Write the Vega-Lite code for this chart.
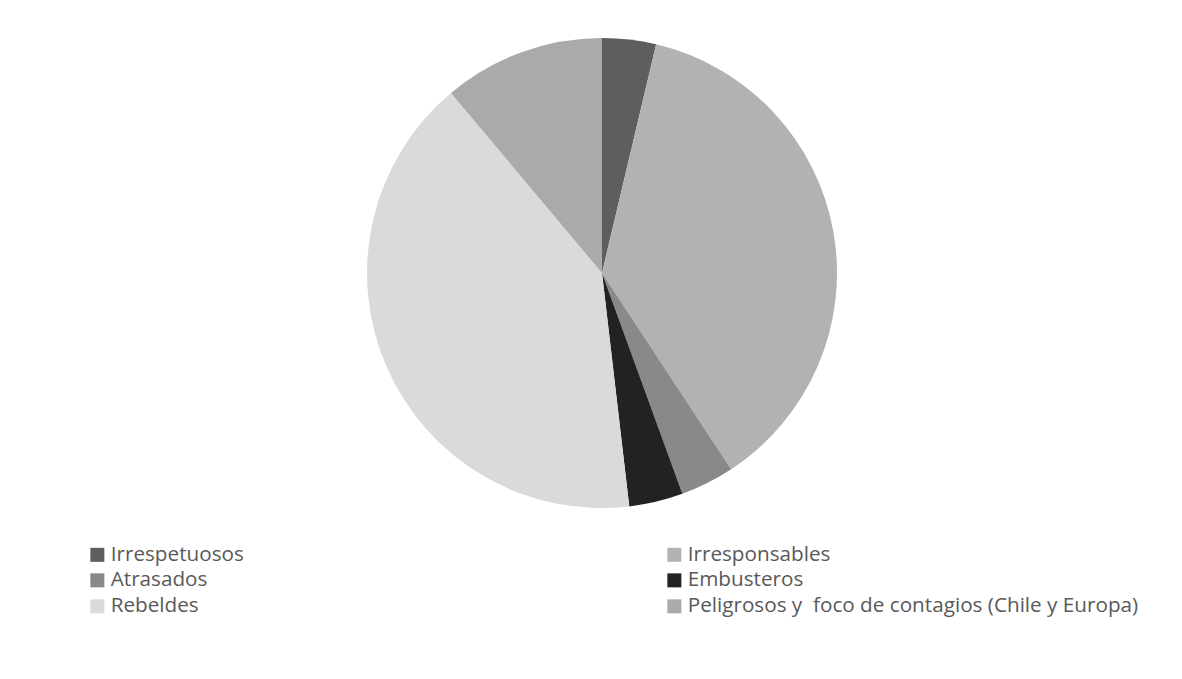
{
  "$schema": "https://vega.github.io/schema/vega-lite/v6.json",
  "width": 470,
  "height": 470,
  "autosize": {"type": "none"},
  "padding": {"left": 367, "top": 38, "right": 345, "bottom": 171},
  "background": "white",
  "view": {"stroke": null},
  "data": {
    "values": [
      {"categoria": "Irrespetuosos", "valor": 1, "orden": 1},
      {"categoria": "Irresponsables", "valor": 10, "orden": 2},
      {"categoria": "Atrasados", "valor": 1, "orden": 3},
      {"categoria": "Embusteros", "valor": 1, "orden": 4},
      {"categoria": "Rebeldes", "valor": 11, "orden": 5},
      {"categoria": "Peligrosos y \u00a0foco de contagios (Chile y Europa)", "valor": 3, "orden": 6}
    ]
  },
  "mark": {"type": "arc", "radius": 235, "stroke": null},
  "encoding": {
    "theta": {"field": "valor", "type": "quantitative", "stack": true},
    "order": {"field": "orden", "type": "quantitative", "sort": "ascending"},
    "color": {
      "field": "categoria",
      "type": "nominal",
      "sort": ["Irrespetuosos", "Irresponsables", "Atrasados", "Embusteros", "Rebeldes", "Peligrosos y \u00a0foco de contagios (Chile y Europa)"],
      "scale": {
        "domain": ["Irrespetuosos", "Irresponsables", "Atrasados", "Embusteros", "Rebeldes", "Peligrosos y \u00a0foco de contagios (Chile y Europa)"],
        "range": ["#5e5e5e", "#b2b2b2", "#898989", "#222222", "#dadada", "#aaaaaa"]
      },
      "legend": {
        "title": null,
        "orient": "none",
        "direction": "horizontal",
        "legendX": -280,
        "legendY": 506,
        "columns": 2,
        "columnPadding": 420,
        "rowPadding": 4,
        "symbolType": "square",
        "symbolSize": 196,
        "symbolStrokeWidth": 0,
        "symbolOpacity": 1,
        "labelFont": "Open Sans",
        "labelFontSize": 20.7,
        "labelColor": "#595959",
        "labelOffset": 3,
        "labelLimit": 700
      }
    }
  }
}
